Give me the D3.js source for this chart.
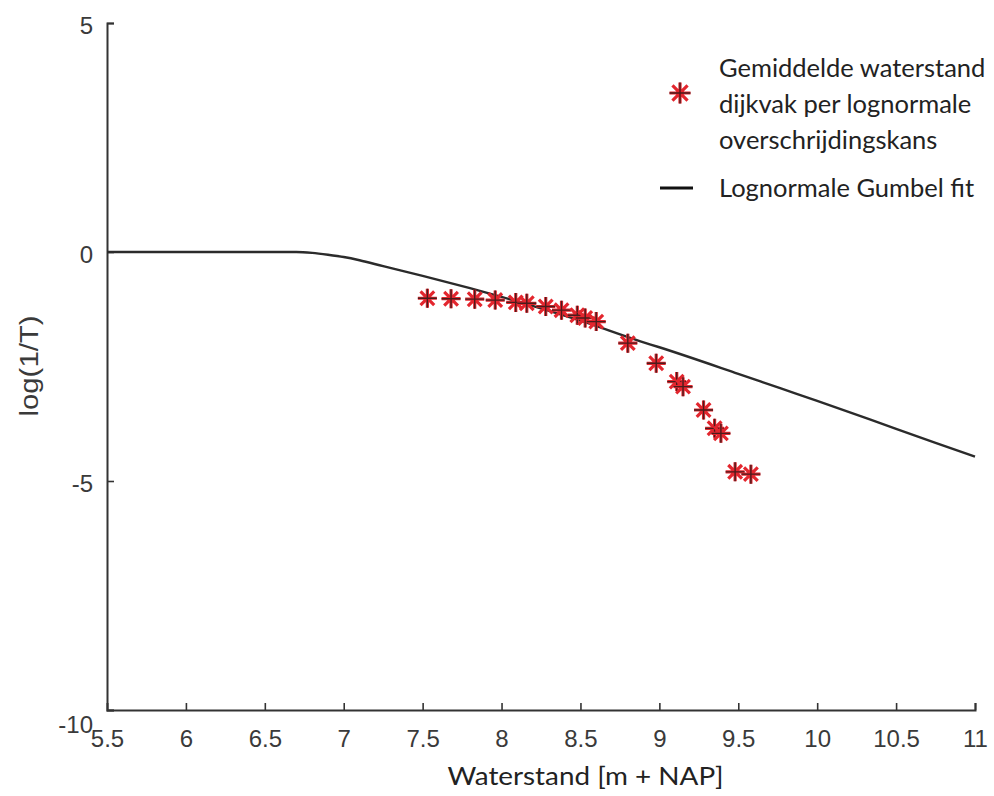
<!DOCTYPE html>
<html>
<head>
<meta charset="utf-8">
<script src="https://cdn.jsdelivr.net/npm/d3@7"></script>
<style>
  body { margin: 0; background: #fff; }
  svg { display: block; }
</style>
</head>
<body>
<div id="chart"></div>
<script>
/* DATA */
// measured points: mean water level per lognormal exceedance probability
const waterstand = [7.53, 7.68, 7.83, 7.96, 8.09, 8.16, 8.28, 8.38, 8.48, 8.53, 8.60, 8.80,
  8.98, 9.11, 9.15, 9.28, 9.35, 9.39, 9.48, 9.58];
const logT = [-1.01, -1.02, -1.03, -1.05, -1.10, -1.12, -1.19, -1.27, -1.38, -1.44, -1.52, -1.99,
  -2.43, -2.83, -2.94, -3.45, -3.85, -3.96, -4.80, -4.85];

// Gumbel fit line
const fitX = [5.5, 6.7, 6.8, 6.9, 7.0, 7.1, 7.25, 7.5, 7.8, 8.0, 8.5, 8.88, 9.0, 9.5, 9.77, 10, 10.5, 11];
const fitY = [0, 0, -0.02, -0.06, -0.11, -0.18, -0.31, -0.52, -0.79, -0.98, -1.5, -1.95, -2.08, -2.66, -2.98, -3.25, -3.86, -4.47];

const xTicks = [5.5, 6, 6.5, 7, 7.5, 8, 8.5, 9, 9.5, 10, 10.5, 11];
const yTicks = [5, 0, -5, -10];

const legendLabels = ['Gemiddelde waterstand', 'dijkvak per lognormale', 'overschrijdingskans'];
const legendFit = 'Lognormale Gumbel fit';

/* LAYOUT */
const W = 994, H = 796;
const margin = { top: 23, right: 19, bottom: 86, left: 107 };
const width = W - margin.left - margin.right;
const height = H - margin.top - margin.bottom;

const svg = d3.select('#chart')
  .append('svg')
  .attr('width', W)
  .attr('height', H);

const g = svg.append('g')
  .attr('transform', `translate(${margin.left}, ${margin.top})`);

const x = d3.scaleLinear().domain([5.5, 11]).range([0, width]);
const y = d3.scaleLinear().domain([-10, 5]).range([height, 0]);

const axisColor = '#333';
const tickFont = '"Liberation Sans", Arial, sans-serif';
const labelFont = 'Lato, "Open Sans", sans-serif';

// x axis (ticks pointing inward)
const xAxis = g.append('g')
  .attr('transform', `translate(0, ${height})`)
  .call(d3.axisBottom(x).tickValues(xTicks).tickSize(-7).tickPadding(20).tickFormat(d => String(d)));

// y axis
const yAxis = g.append('g')
  .call(d3.axisLeft(y).tickValues(yTicks).tickSize(-7).tickPadding(14).tickFormat(d => String(d)));

[xAxis, yAxis].forEach(a => {
  a.select('.domain').attr('stroke', axisColor).attr('stroke-width', 2);
  a.selectAll('.tick line').attr('stroke', axisColor).attr('stroke-width', 1.6);
  a.selectAll('.tick text')
    .attr('fill', '#3a3a3a')
    .style('font-family', tickFont)
    .style('font-size', '24px');
});
// hide the first x tick mark (sits on the y axis)
xAxis.selectAll('.tick line').filter(d => d === 5.5).remove();
yAxis.selectAll('.tick text').attr('dy', '0.45em');
yAxis.selectAll('.tick text').filter(d => d === -10).attr('dy', '0.95em');

// axis titles
g.append('text')
  .attr('x', x(8.5) + 5)
  .attr('y', height + 75)
  .attr('text-anchor', 'middle')
  .attr('textLength', 276)
  .attr('lengthAdjust', 'spacingAndGlyphs')
  .style('font-family', labelFont)
  .style('font-size', '25px')
  .attr('fill', '#222')
  .text('Waterstand [m + NAP]');

svg.append('text')
  .attr('transform', `translate(38, 366) rotate(-90)`)
  .attr('text-anchor', 'middle')
  .attr('textLength', 101)
  .attr('lengthAdjust', 'spacingAndGlyphs')
  .style('font-family', tickFont)
  .style('font-size', '25px')
  .attr('fill', '#3a3a3a')
  .text('log(1/T)');

// fit line
const fitData = fitX.map((d, i) => ({ x: d, y: fitY[i] }));
const line = d3.line()
  .x(d => x(d.x))
  .y(d => y(d.y))
  .curve(d3.curveMonotoneX);

g.append('path')
  .datum(fitData)
  .attr('fill', 'none')
  .attr('stroke', '#2b2b2b')
  .attr('stroke-width', 2.4)
  .attr('d', line);

// star marker
function drawStar(sel, r) {
  const a = r * 0.72;
  sel.append('path')
    .attr('d', `M${-a},${-a}L${a},${a}M${-a},${a}L${a},${-a}M${-r},0L${r},0M0,${-r}L0,${r}`)
    .attr('stroke', '#e3262e')
    .attr('stroke-width', 3.2)
    .attr('fill', 'none');
  sel.append('path')
    .attr('d', `M${-r},0L${r},0M0,${-r}L0,${r}`)
    .attr('stroke', '#4a1c1c')
    .attr('stroke-width', 1.4)
    .attr('fill', 'none');
}

const points = waterstand.map((d, i) => ({ x: d, y: logT[i] }));
g.selectAll('.star')
  .data(points)
  .enter()
  .append('g')
  .attr('class', 'star')
  .attr('transform', d => `translate(${x(d.x)}, ${y(d.y)})`)
  .each(function () { drawStar(d3.select(this), 9.5); });

// Legend
const legend = svg.append('g');
drawStar(legend.append('g').attr('transform', 'translate(680, 93)'), 10.5);

legend.selectAll('.leg-text')
  .data(legendLabels)
  .enter()
  .append('text')
  .attr('x', 719)
  .attr('y', (d, i) => 77 + i * 36)
  .style('font-family', labelFont)
  .style('font-size', '25.5px')
  .attr('fill', '#222')
  .text(d => d);

legend.append('line')
  .attr('x1', 660).attr('x2', 693)
  .attr('y1', 188).attr('y2', 188)
  .attr('stroke', '#111')
  .attr('stroke-width', 3);

legend.append('text')
  .attr('x', 719)
  .attr('y', 197)
  .style('font-family', labelFont)
  .style('font-size', '25.5px')
  .attr('fill', '#222')
  .text(legendFit);
</script>
</body>
</html>
